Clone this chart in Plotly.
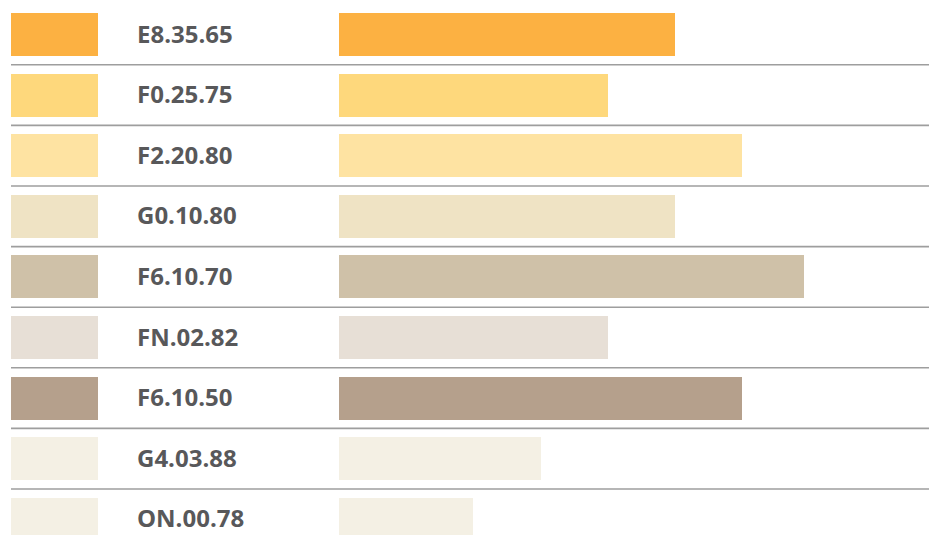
import plotly.graph_objects as go

codes = ["E8.35.65", "F0.25.75", "F2.20.80", "G0.10.80", "F6.10.70",
         "FN.02.82", "F6.10.50", "G4.03.88", "ON.00.78"]
values = [5, 4, 6, 5, 6.92, 4, 6, 3, 2]
colors = ["#FCB142", "#FED87C", "#FEE3A2", "#EFE3C4", "#CFC1A8",
          "#E7DFD6", "#B5A08C", "#F4F0E4", "#F4F0E4"]

W, H = 929, 535
pitch = 60.6
top_c = 34.5
rows = list(range(len(codes)))

fig = go.Figure()
# value bars
fig.add_trace(go.Bar(
    x=values, y=rows, orientation="h", marker=dict(color=colors, line_width=0),
    width=43 / pitch, xaxis="x", yaxis="y", hoverinfo="skip", showlegend=False))
# swatches
fig.add_trace(go.Bar(
    x=[1] * len(codes), y=rows, orientation="h", marker=dict(color=colors, line_width=0),
    width=43 / pitch, xaxis="x2", yaxis="y", hoverinfo="skip", showlegend=False))

for i, c in enumerate(codes):
    fig.add_annotation(x=135 / W, xref="paper", y=i, yref="y", text=c,
                       showarrow=False, xanchor="left", yanchor="middle", yshift=1.5,
                       font=dict(family="Open Sans", size=24, color="#58585A", weight="bold"))

for i in range(len(codes) - 1):
    fig.add_shape(type="line", xref="paper", yref="y", x0=11 / W, x1=1,
                  y0=i + 0.5, y1=i + 0.5, line=dict(color="#9E9E9E", width=1.6),
                  layer="below")

unit = 67.2
fig.update_layout(
    width=W, height=H, margin=dict(l=0, r=0, t=0, b=0),
    paper_bgcolor="white", plot_bgcolor="white", bargap=0,
    xaxis=dict(domain=[339 / W, 1], range=[0, (W - 339) / unit], visible=False, fixedrange=True),
    xaxis2=dict(domain=[11 / W, 98 / W], range=[0, 1], visible=False, anchor="y"),
    yaxis=dict(range=[(H - top_c) / pitch, -top_c / pitch], visible=False),
    barmode="overlay",
)
fig.write_html("out.html")
